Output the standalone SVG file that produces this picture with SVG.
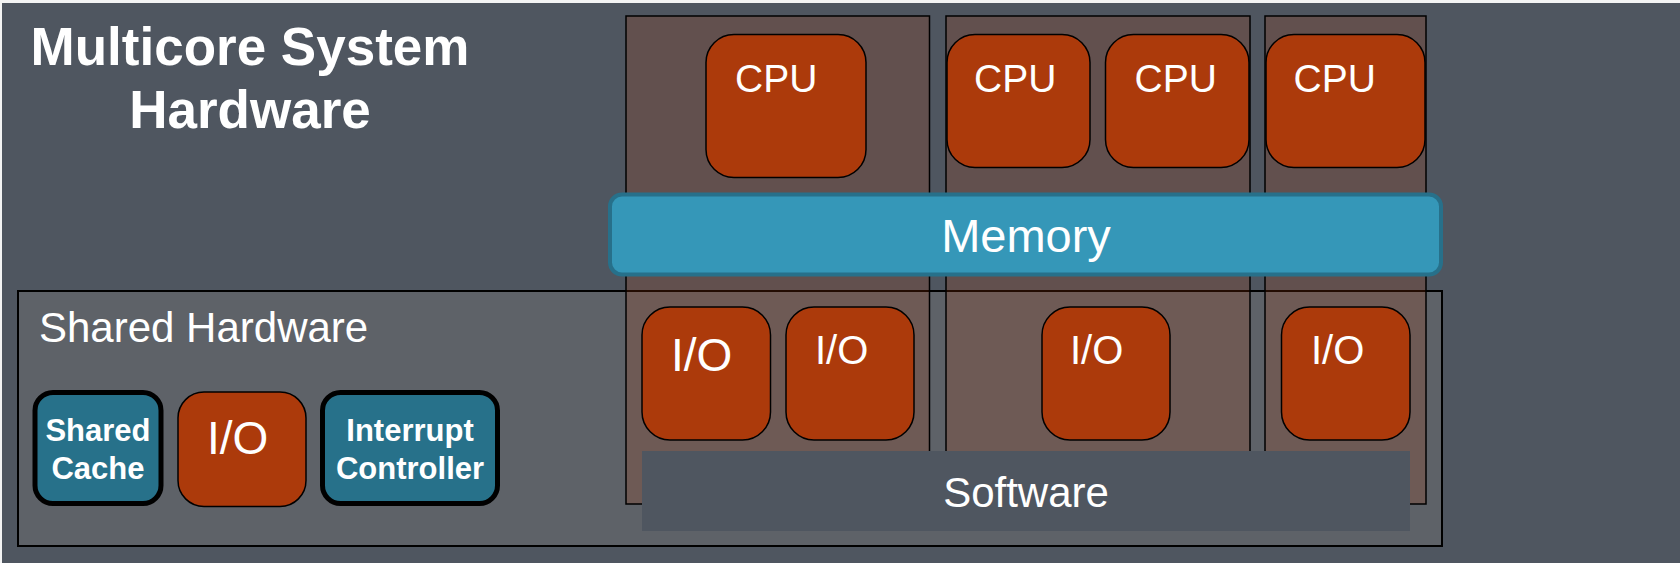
<svg xmlns="http://www.w3.org/2000/svg" width="1680" height="563" viewBox="0 0 1680 563">
<style>
text{font-family:"Liberation Sans",Arial,sans-serif;fill:#ffffff}
.b{font-weight:bold}
.proc{fill:#ac3a0b;stroke:#000;stroke-width:1.5}
.col{fill:rgb(173,58,10);fill-opacity:0.2;stroke:#000;stroke-width:1.5}
.teal{fill:#27718a;stroke:#000;stroke-width:5}
</style>
<rect x="0" y="0" width="1680" height="563" fill="#f4f4f4"/>
<rect id="background" x="2" y="3" width="1678" height="560" fill="#4f5660"/>
<g id="title">
<text class="b" x="250" y="65" font-size="53" text-anchor="middle">Multicore System</text>
<text class="b" x="250" y="128" font-size="53" text-anchor="middle">Hardware</text>
</g>
<g id="shared-hardware">
<rect x="18" y="291" width="1424" height="255" fill="#5e6268" stroke="#000" stroke-width="2"/>
<text x="39" y="342" font-size="42">Shared Hardware</text>
</g>
<g id="column-1"><rect class="col" x="626" y="16" width="303.5" height="488"/></g>
<g id="column-2"><rect class="col" x="946" y="16" width="304" height="488"/></g>
<g id="column-3"><rect class="col" x="1265" y="16" width="161" height="488"/></g>
<g id="cpu-1"><rect class="proc" x="706" y="34.5" width="160" height="143" rx="28"/><text x="735" y="92" font-size="39">CPU</text></g>
<g id="cpu-2"><rect class="proc" x="947" y="34.5" width="143" height="133" rx="28"/><text x="974" y="92" font-size="39">CPU</text></g>
<g id="cpu-3"><rect class="proc" x="1105.5" y="34.5" width="143.5" height="133" rx="28"/><text x="1134.5" y="92" font-size="39">CPU</text></g>
<g id="cpu-4"><rect class="proc" x="1266" y="34.5" width="159" height="133" rx="28"/><text x="1293.5" y="92" font-size="39">CPU</text></g>
<g id="memory"><rect x="610" y="194.5" width="831" height="80" rx="12" fill="#3597b8" stroke="#27708a" stroke-width="4"/><text x="1026" y="252" font-size="47" text-anchor="middle">Memory</text></g>
<g id="io-1"><rect class="proc" x="642" y="307" width="128.5" height="133" rx="28"/><text x="671" y="371" font-size="46">I/O</text></g>
<g id="io-2"><rect class="proc" x="786" y="307" width="128" height="133" rx="28"/><text x="815" y="364" font-size="40">I/O</text></g>
<g id="io-3"><rect class="proc" x="1042" y="307" width="128" height="133" rx="28"/><text x="1070" y="364" font-size="40">I/O</text></g>
<g id="io-4"><rect class="proc" x="1281.5" y="307" width="128.5" height="133" rx="28"/><text x="1311" y="364" font-size="40">I/O</text></g>
<g id="software"><rect x="642" y="451" width="768" height="80" fill="#4f5660"/><text x="1026" y="507" font-size="42" text-anchor="middle">Software</text></g>
<g id="shared-cache"><rect class="teal" x="35" y="392.5" width="126" height="111" rx="18"/><text class="b" x="98" y="441" font-size="31" text-anchor="middle">Shared</text><text class="b" x="98" y="479" font-size="31" text-anchor="middle">Cache</text></g>
<g id="shared-io"><rect class="proc" x="178" y="392" width="128" height="114.5" rx="26"/><text x="207" y="454" font-size="46">I/O</text></g>
<g id="interrupt-controller"><rect class="teal" x="322.5" y="392.5" width="175" height="111" rx="18"/><text class="b" x="410" y="441" font-size="31" text-anchor="middle">Interrupt</text><text class="b" x="410" y="479" font-size="31" text-anchor="middle">Controller</text></g>
</svg>
